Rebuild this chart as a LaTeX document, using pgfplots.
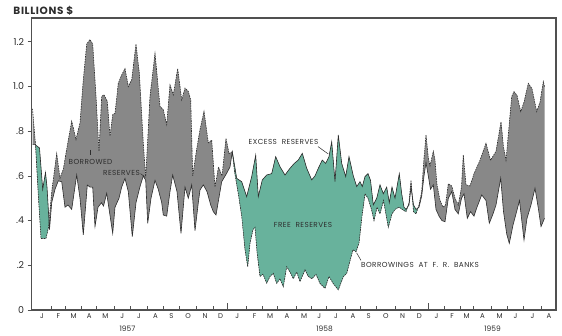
\documentclass[border=0pt]{standalone}
\usepackage{fontspec}
\setmainfont{Poppins}
\newfontfamily\lab[LetterSpace=6]{Poppins}
\usepackage{pgfplots}
\pgfplotsset{compat=1.18}
\usepgfplotslibrary{fillbetween}
\definecolor{grayfill}{RGB}{136,136,136}
\definecolor{tealfill}{RGB}{104,178,156}
\definecolor{linedark}{RGB}{45,45,45}
\definecolor{framegray}{RGB}{80,80,80}
\definecolor{txt}{RGB}{45,45,45}

\pgfplotstableread{
x y
32.5 0.90
35.5 0.74
38.5 0.50
41 0.32
46 0.32
48.5 0.37
52 0.54
56.7 0.70
60 0.59
63.3 0.63
66.7 0.72
71.7 0.845
76 0.763
80 0.837
83.3 1.03
86.7 1.19
90 1.21
92.7 1.19
96 0.956
99 0.71
101.7 0.956
104 0.963
107.3 0.933
110 0.778
112.7 0.874
115 0.88
118.3 1.015
121.7 1.052
125 1.08
128.3 1.0
131.7 1.03
136 1.19
139.3 1.06
143.3 0.748
145.7 0.593
150 0.956
155 1.148
160 0.911
163.3 0.896
166.7 0.83
170 1.007
173.3 0.963
177.7 1.08
181.7 0.94
185 0.993
188.3 0.978
190.7 0.94
192.7 0.60
196.7 0.72
200 0.807
204 0.889
208.3 0.748
211.7 0.76
215 0.55
218.5 0.64
222 0.60
226 0.768
229 0.70
232.3 0.708
234.5 0.62
238.3 0.52
241.7 0.42
245 0.27
247.7 0.194
250 0.298
253 0.36
255 0.37
257 0.26
260 0.15
263 0.16
266.7 0.12
270 0.15
273.3 0.164
276.7 0.119
280 0.14
283.3 0.104
286.7 0.194
290 0.17
293.3 0.14
296.7 0.17
300 0.127
305 0.18
308.3 0.15
312 0.14
316 0.16
320 0.119
325 0.097
329 0.15
333 0.12
338.3 0.09
343.3 0.149
346.7 0.164
350 0.22
353 0.27
356 0.26
359 0.30
362 0.42
365 0.52
368 0.50
371.5 0.45
374 0.40
377 0.46
380 0.43
383.5 0.49
388.3 0.37
392 0.43
395 0.45
399 0.46
404 0.445
406 0.44
409 0.48
411 0.58
413.5 0.44
416 0.43
419 0.47
421.7 0.53
424 0.68
426 0.783
428.3 0.68
430 0.645
433.3 0.71
435 0.67
437 0.56
440 0.49
443 0.46
445.5 0.47
448.3 0.565
451.7 0.555
455 0.50
458.3 0.47
461.5 0.55
463.3 0.694
466 0.56
470 0.555
474 0.61
480 0.67
486 0.746
490.5 0.67
496 0.71
501 0.842
503.5 0.73
506 0.67
511.7 0.955
514 0.977
517 0.96
520.7 0.888
524 0.93
528.3 1.014
532 0.99
536.7 0.888
540 0.93
543.3 1.022
544.5 1.00
}\borrowings

\pgfplotstableread{
x y
32.5 0.74
35 0.74
39.5 0.725
42.7 0.54
45.5 0.615
47 0.55
49.5 0.36
51.7 0.48
55 0.54
58.3 0.578
61.7 0.574
65 0.46
68 0.47
71.7 0.45
76.7 0.604
80 0.50
83.3 0.336
87.3 0.559
90 0.55
92.7 0.55
95 0.373
98 0.46
101.5 0.48
103.5 0.465
106.7 0.522
112.7 0.343
115 0.46
119 0.50
121.7 0.55
125 0.589
128.3 0.53
132.3 0.328
136 0.48
140 0.552
143.3 0.60
145.7 0.58
147.7 0.388
151 0.50
155 0.58
158.3 0.54
161.7 0.48
163.3 0.425
166.7 0.42
170 0.53
172.7 0.604
177 0.53
181 0.343
185 0.55
188.3 0.50
191.7 0.56
195 0.355
198.3 0.48
200 0.537
203.3 0.56
207 0.53
210.7 0.47
213.3 0.44
216 0.425
221.7 0.574
226.7 0.612
230 0.64
232.3 0.708
236.7 0.589
241.7 0.574
246.7 0.507
251.7 0.597
255.7 0.693
258.3 0.507
262.3 0.582
266.7 0.604
271.7 0.61
275.7 0.686
280 0.641
285 0.604
290 0.634
294.3 0.656
298.3 0.671
302.3 0.701
306.7 0.634
311.7 0.582
315 0.60
318.3 0.634
322.3 0.671
325.7 0.656
329 0.686
331.7 0.753
335 0.574
338.3 0.783
341.7 0.656
345.7 0.597
349 0.686
353.3 0.60
356.7 0.552
360 0.574
362.3 0.552
365 0.597
368 0.61
370.5 0.58
373.3 0.47
376.7 0.50
380 0.56
383.3 0.52
386.7 0.55
389.3 0.48
392 0.55
395 0.50
399.3 0.61
401.7 0.52
404 0.46
406 0.45
409 0.47
411 0.55
413.5 0.47
416 0.45
419 0.46
421.7 0.51
424 0.60
426 0.66
428.3 0.60
430.5 0.54
433.3 0.56
436 0.45
439 0.42
442 0.40
445 0.395
448.3 0.50
451.7 0.53
455 0.45
458.3 0.43
461.5 0.50
464 0.52
467.3 0.41
470.5 0.44
474 0.42
477 0.46
481.7 0.515
486 0.49
489.3 0.388
493 0.43
496 0.47
500.7 0.59
503.5 0.44
506.7 0.34
509.3 0.298
513 0.38
516 0.43
519.5 0.49
524 0.313
527 0.41
531 0.47
535 0.545
538.5 0.45
541 0.373
544.5 0.41
}\excess

\begin{document}
\begin{tikzpicture}
\begin{axis}[
  at={(31.7bp,26bp)}, anchor=south west,
  scale only axis, width=524.3bp, height=292bp,
  xmin=31.7, xmax=556, ymin=0, ymax=1.3065,
  axis line style={draw=framegray, line width=1.2bp},
  tick pos=left,
  ytick={0,0.2,0.4,0.6,0.8,1.0,1.2},
  yticklabels={0,.2,.4,.6,.8,1.0,1.2},
  ytick align=outside,
  xtick align=inside,
  major tick length=4bp,
  minor tick length=7bp,
  tick style={draw=framegray, line width=0.8bp},
  xtick={51,65.7,81.7,96.7,114.3,130,147.7,163.3,179.3,196.7,213.3,246.7,262.7,277.3,296.7,311.7,326.7,345,360.7,376.7,395,410,444,460,473.3,491.7,507.7,523.3,541.7},
  xticklabels={},
  minor xtick={227.8,428.8},
  extra x ticks={42,58.3,73.7,89.2,105.5,122.2,138.9,155.5,171.3,188,205,220.5,237.2,254.7,270,287,304.2,319.2,335.9,352.9,368.7,385.9,402.5,419.4,436.4,452,466.7,482.5,499.7,515.5,532.5,549},
  extra x tick labels={J,F,M,A,M,J,J,A,S,O,N,D,J,F,M,A,M,J,J,A,S,O,N,D,J,F,M,A,M,J,J,A},
  extra x tick style={major tick length=0pt, tick style={draw=none},
     xticklabel style={font=\fontsize{7}{7}\selectfont, text=txt}},
  yticklabel style={font=\fontsize{9.5}{9.5}\selectfont, text=txt},
  /pgf/number format/assume math mode=true,
  clip=false,
]
\addplot[name path=B, draw=none] table {\borrowings};
\addplot[name path=E, draw=none] table {\excess};
\addplot[grayfill] fill between[of=B and E];
\addplot[tealfill] fill between[of=E and B, soft clip={domain=35.5:49}];
\addplot[tealfill] fill between[of=E and B, soft clip={domain=232.3:407.5}];
\addplot[tealfill] fill between[of=E and B, soft clip={domain=412.25:418}];
\addplot[linedark, line width=0.6bp, dash pattern=on 1.6bp off 0.9bp] table {\borrowings};
\addplot[linedark, line width=0.6bp] table {\excess};

\begin{scope}[every node/.style={font=\lab\fontsize{7.3}{7.3}\selectfont, text=txt, inner sep=0pt}]
\node at (axis cs:90.5,0.662) {BORROWED};
\node at (axis cs:121.5,0.615) {RESERVES};
\node at (axis cs:283.5,0.752) {EXCESS\ \ RESERVES};
\node at (axis cs:303,0.380) {FREE\ \ RESERVES};
\node[anchor=west] at (axis cs:361,0.201) {BORROWINGS\ \ AT\ \ F.\ \ R.\ \ BANKS};
\end{scope}
\draw[linedark, line width=0.5bp] (axis cs:318,0.731) -- (axis cs:328.3,0.698);
\draw[linedark, line width=0.5bp] (axis cs:361,0.222) -- (axis cs:356.7,0.255);
\draw[linedark, line width=0.5bp] (axis cs:90.7,0.716) -- (axis cs:90.7,0.694);
\draw[linedark, line width=0.5bp] (axis cs:140.5,0.61) -- (axis cs:144.5,0.597);

\begin{scope}[every node/.style={font=\fontsize{7.5}{7.5}\selectfont, text=txt}]
\node at (axis cs:127.5,0) [yshift=-19bp] {1957};
\node at (axis cs:324.5,0) [yshift=-19bp] {1958};
\node at (axis cs:492.5,0) [yshift=-19bp] {1959};
\end{scope}
\node[font=\lab\fontsize{10.5}{10.5}\selectfont\bfseries, text=txt, anchor=base west, inner sep=0pt] at (axis cs:13.3,1.32) {BILLIONS \$};
\end{axis}
\draw[framegray, line width=1.2bp] (31.7bp,318bp) -- (556bp,318bp) -- (556bp,26bp);
\path (0,0) rectangle (562bp,336bp);
\end{tikzpicture}
\end{document}
